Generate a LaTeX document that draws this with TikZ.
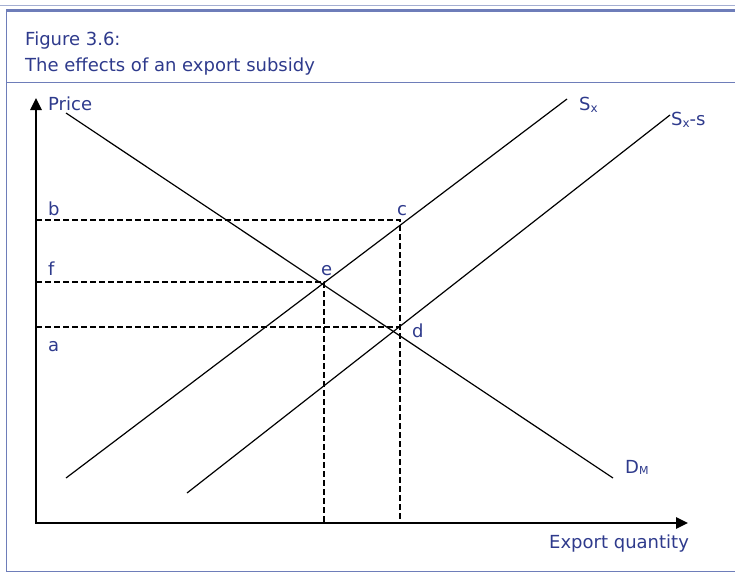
\documentclass[tikz,border=0pt]{standalone}
\usepackage{fontspec}
\setmainfont{DejaVu Sans}
\usetikzlibrary{arrows.meta}
\definecolor{txt}{RGB}{46,58,140}
\definecolor{frameA}{RGB}{165,175,210}
\definecolor{frameB}{RGB}{110,125,185}
\newcommand{\subx}[1]{\raisebox{-2pt}{\fontsize{12}{12}\selectfont #1}}
\begin{document}
\begin{tikzpicture}[x=1pt,y=-1pt,
  lbl/.style={text=txt, font=\fontsize{18}{22}\selectfont, inner sep=0pt, anchor=base west},
  axisline/.style={line width=2.6pt, line join=miter,
    {Triangle[length=12pt,width=11pt]}-{Triangle[length=12pt,width=11pt]}},
  curveline/.style={line width=1.2pt},
  guide/.style={line width=1.5pt, dash pattern=on 6pt off 3pt},
  frameline/.style={frameB, line width=1.3pt}]
\useasboundingbox (0,0) rectangle (735,574);
% frame
\draw[frameA, line width=1.5pt] (0,5.5) -- (735,5.5);
\draw[frameB, line width=2.5pt] (6,10.5) -- (735,10.5);
\draw[frameline] (6.5,10) -- (6.5,572);
\draw[frameline] (6,82.5) -- (735,82.5);
\draw[frameB, line width=1.5pt] (6,571.5) -- (735,571.5);
% title
\node[lbl] (t1) at (25,45) {Figure 3.6:};
\node[lbl] (t2) at (25,71) {The effects of an export subsidy};
% axes
\coordinate (O) at (36,523);
\coordinate (ytop) at (36,98);
\coordinate (xend) at (688,523);
\draw[axisline] (ytop) -- (O) -- (xend);
% curves
\coordinate (D1) at (66,113);
\coordinate (D2) at (613,478);
\coordinate (S1) at (66,478);
\coordinate (S2) at (567,99);
\coordinate (T1) at (187,493);
\coordinate (T2) at (670,115);
\draw[curveline] (D1) -- (D2);
\draw[curveline] (S1) -- (S2);
\draw[curveline] (T1) -- (T2);
% guide points
\coordinate (pc) at (400,220);
\coordinate (pe) at (324,282);
\coordinate (pd) at (400,327);
\coordinate (pb) at (36,220);
\coordinate (pf) at (36,282);
\coordinate (pa) at (36,327);
\coordinate (qe) at (324,523);
\coordinate (qc) at (400,523);
\draw[guide] (pb) -- (pc) -- (qc);
\draw[guide] (pf) -- (pe) -- (qe);
\draw[guide] (pa) -- (pd);
% labels
\node[lbl] (price) at (48,110) {Price};
\node[lbl] (lb) at (48,215) {b};
\node[lbl] (lf) at (48,275) {f};
\node[lbl] (la) at (48,351) {a};
\node[lbl] (lc) at (397,215) {c};
\node[lbl] (le) at (321,275) {e};
\node[lbl] (ld) at (412,337) {d};
\node[lbl] (lsx) at (579,110) {S\subx{x}};
\node[lbl] (lsxs) at (671,125) {S\subx{x}-s};
\node[lbl] (ldm) at (625,473) {D\raisebox{-1.5pt}{\fontsize{11}{11}\selectfont M}};
\node[lbl] (lq) at (549,548) {Export quantity};
\end{tikzpicture}
\end{document}
